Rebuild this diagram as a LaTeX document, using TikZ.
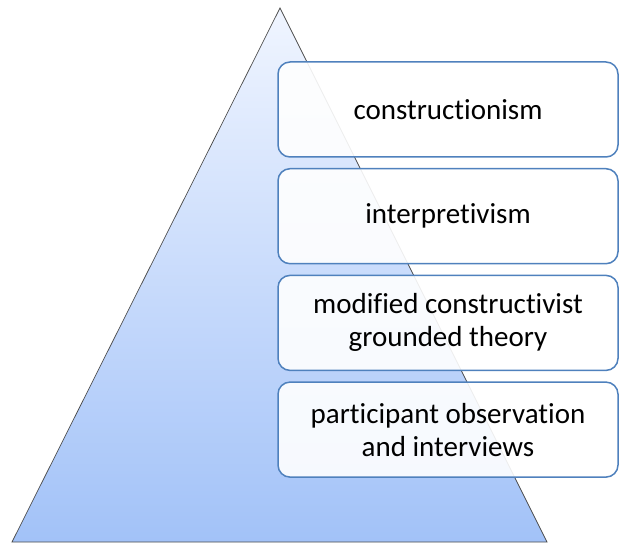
\documentclass[tikz,border=0pt]{standalone}
\usepackage{fontspec}
\setmainfont{Carlito}[Ligatures=NoCommon]
\definecolor{boxblue}{RGB}{79,129,189}
\definecolor{pyrtop}{RGB}{240,245,255}
\definecolor{pyrbottom}{RGB}{162,194,248}
\begin{document}
\begin{tikzpicture}[x=1pt,y=1pt,
    tierbox/.style={draw=boxblue,line width=1.5pt,fill=white,fill opacity=0.9,text opacity=1,
        rounded corners=12pt,minimum width=340pt,minimum height=95pt,align=center,
        font=\fontsize{29}{33}\selectfont}]
    \useasboundingbox (0,0) rectangle (619,544);
    \coordinate (apex) at (280,536);
    \coordinate (baseL) at (12,2);
    \coordinate (baseR) at (547,2);
    \shadedraw[top color=pyrtop,bottom color=pyrbottom,draw=gray!60!black,line width=0.7pt]
        (baseL) -- (apex) -- (baseR) -- cycle;
    \foreach \t [count=\n] in {constructionism,interpretivism,
        {modified constructivist\\grounded theory},{participant observation\\and interviews}}{
        \node[tierbox] (tier\n) at (448,{541.2-106.7*\n}) {\t};
    }
\end{tikzpicture}
\end{document}
